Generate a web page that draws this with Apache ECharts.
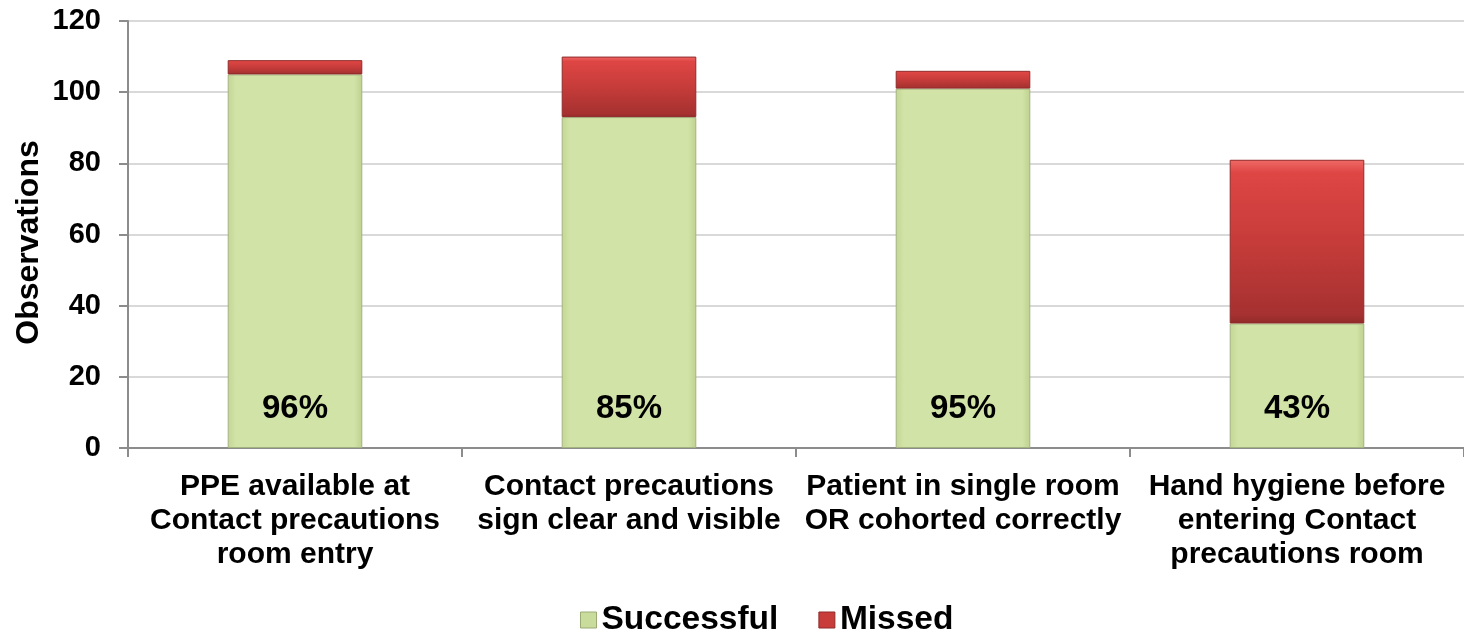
<!DOCTYPE html>
<html>
<head>
<meta charset="utf-8">
<script src="https://cdn.jsdelivr.net/npm/echarts@6/dist/echarts.min.js"></script>
<style>
html,body{margin:0;padding:0;background:#fff;}
#chart{width:1464px;height:632px;}
</style>
</head>
<body>
<div id="chart"></div>
<script>
const categories = [
  'PPE available at\nContact precautions\nroom entry',
  'Contact precautions\nsign clear and visible',
  'Patient in single room\nOR cohorted correctly',
  'Hand hygiene before\nentering Contact\nprecautions room'
];
const successful = [105, 93, 101, 35];
const missed = [4, 17, 5, 46];
const pctLabels = ['96%', '85%', '95%', '43%'];
const yTicks = [0, 20, 40, 60, 80, 100, 120];

const FONT = '"Liberation Sans", Arial, sans-serif';
const chart = echarts.init(document.getElementById('chart'));

const greenFill = new echarts.graphic.LinearGradient(0, 0, 1, 0, [
  {offset: 0, color: '#c3d694'},
  {offset: 0.06, color: '#d1e3a6'},
  {offset: 0.94, color: '#d1e3a6'},
  {offset: 1, color: '#bfd190'}
]);
const redFill = new echarts.graphic.LinearGradient(0, 0, 0, 1, [
  {offset: 0, color: '#f06a67'},
  {offset: 0.08, color: '#de4644'},
  {offset: 0.5, color: '#c63c3a'},
  {offset: 0.95, color: '#a53130'},
  {offset: 1, color: '#8f2a29'}
]);

chart.setOption({
  animation: false,
  backgroundColor: '#ffffff',
  grid: {left: 128, right: 0, top: 21, bottom: 184, containLabel: false},
  legend: {
    left: 575,
    top: 598,
    itemWidth: 16,
    itemHeight: 16,
    itemGap: 40,
    icon: 'rect',
    textStyle: {fontFamily: FONT, fontSize: 33.5, fontWeight: 'bold', color: '#000'},
    data: [
      {name: 'Successful', itemStyle: {color: '#c9dc9c', borderColor: '#9bab74', borderWidth: 1}},
      {name: 'Missed', itemStyle: {color: '#c83c3a', borderColor: '#8f2a29', borderWidth: 1}}
    ]
  },
  xAxis: {
    type: 'category',
    data: categories,
    axisLine: {lineStyle: {color: '#8c8c8c', width: 2}},
    axisTick: {show: true, alignWithLabel: false, length: 9, lineStyle: {color: '#8c8c8c', width: 2}},
    axisLabel: {
      fontFamily: FONT, fontSize: 30, fontWeight: 'bold', color: '#000',
      lineHeight: 34, margin: 22, interval: 0
    }
  },
  yAxis: {
    type: 'value',
    min: yTicks[0],
    max: yTicks[yTicks.length - 1],
    interval: 20,
    name: 'Observations',
    nameLocation: 'middle',
    nameRotate: 90,
    nameGap: 83,
    nameMoveOverlap: false,
    nameTextStyle: {fontFamily: FONT, fontSize: 32, fontWeight: 'bold', color: '#000', padding: [0, 16, 0, 0]},
    axisLine: {show: true, lineStyle: {color: '#8c8c8c', width: 2}},
    axisTick: {show: true, length: 9, lineStyle: {color: '#8c8c8c', width: 2}},
    axisLabel: {fontFamily: FONT, fontSize: 29, fontWeight: 'bold', color: '#000', margin: 27},
    splitLine: {lineStyle: {color: '#d9d9d9', width: 2}}
  },
  series: [
    {
      name: 'Successful',
      type: 'bar',
      stack: 'total',
      barWidth: '40.3%',
      data: successful,
      itemStyle: {color: greenFill, borderColor: '#a3b27e', borderWidth: 1},
      label: {
        show: true,
        position: 'insideBottom',
        distance: 23,
        formatter: p => pctLabels[p.dataIndex],
        fontFamily: FONT, fontSize: 33, fontWeight: 'bold', color: '#000'
      }
    },
    {
      name: 'Missed',
      type: 'bar',
      stack: 'total',
      barWidth: '40.3%',
      data: missed,
      itemStyle: {color: redFill, borderColor: '#8f2a29', borderWidth: 1}
    }
  ]
});
</script>
</body>
</html>
